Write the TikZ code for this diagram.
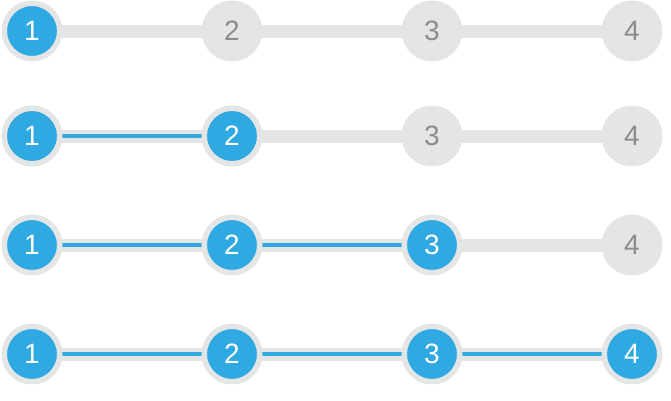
\documentclass[tikz,border=0pt]{standalone}
\usepackage{fontspec}
\setmainfont{Liberation Sans}
\definecolor{stepblue}{HTML}{2FA9E1}
\definecolor{stepgrey}{HTML}{E3E6E5}
\definecolor{numgrey}{HTML}{8C8C8C}
\pgfdeclarelayer{bg}
\pgfsetlayers{bg,main}
\tikzset{
  dot/.style={circle, minimum size=55.5pt, inner sep=0pt, line width=5.5pt,
    draw=stepgrey, font=\fontsize{28}{28}\selectfont},
  done/.style={dot, fill=stepblue, text=white},
  todo/.style={dot, fill=stepgrey, text=numgrey},
  track/.style={draw=stepgrey, line width=13pt},
  progress/.style={draw=stepblue, line width=4pt},
}
\begin{document}
\begin{tikzpicture}[x=1pt,y=-1pt]
\useasboundingbox (0,0) rectangle (671,400);
% row 1
\node[done] (a1) at (32,31) {1};
\node[todo] (a2) at (232,31) {2};
\node[todo] (a3) at (432,31) {3};
\node[todo] (a4) at (632,31) {4};
% row 2
\node[done] (b1) at (32,136) {1};
\node[done] (b2) at (232,136) {2};
\node[todo] (b3) at (432,136) {3};
\node[todo] (b4) at (632,136) {4};
% row 3
\node[done] (c1) at (32,245) {1};
\node[done] (c2) at (232,245) {2};
\node[done] (c3) at (432,245) {3};
\node[todo] (c4) at (632,245) {4};
% row 4
\node[done] (d1) at (32,354) {1};
\node[done] (d2) at (232,354) {2};
\node[done] (d3) at (432,354) {3};
\node[done] (d4) at (632,354) {4};
\begin{pgfonlayer}{bg}
  \draw[track] (a1.center) -- (a4.center);
  \draw[track] (b1.center) -- (b4.center);
  \draw[track] (c1.center) -- (c4.center);
  \draw[track] (d1.center) -- (d4.center);
  \draw[progress] (b1.center) -- (b2.center);
  \draw[progress] (c1.center) -- (c3.center);
  \draw[progress] (d1.center) -- (d4.center);
\end{pgfonlayer}
\end{tikzpicture}
\end{document}
